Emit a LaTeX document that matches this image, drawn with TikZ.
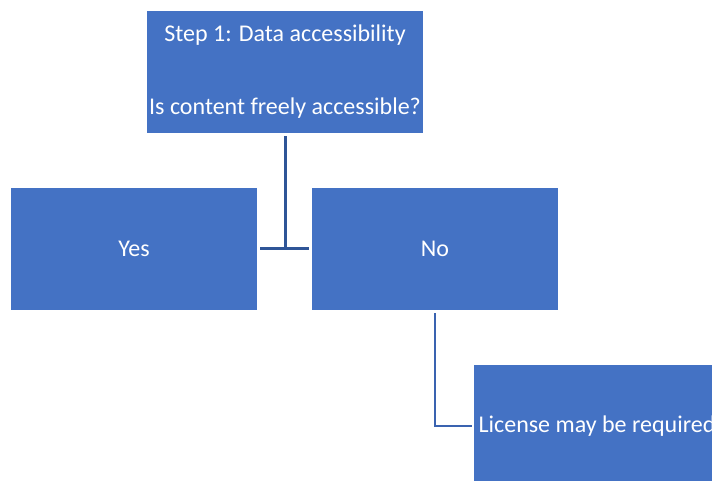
\documentclass[tikz,border=0pt]{standalone}
\usepackage{fontspec}
\setmainfont{Carlito}
\definecolor{boxblue}{HTML}{4472C4}
\definecolor{linedark}{HTML}{2F5597}
\definecolor{linemid}{HTML}{3A63B0}
\begin{document}
\begin{tikzpicture}[x=1pt,y=1pt,
  stepbox/.style={fill=boxblue, draw=none, text=white, inner sep=0pt,
    minimum width=246pt, minimum height=122pt, font=\fontsize{24}{29}\selectfont, align=center},
  conn/.style={line width=3pt}]
\useasboundingbox (0,0) rectangle (712,481);
\clip (0,0) rectangle (712,481);
\node[stepbox, minimum width=276pt] (top) at (285,409)
  {Step 1: Data accessibility\\[44pt]Is content freely accessible?};
\node[stepbox] (yes) at (134,232) {Yes};
\node[stepbox] (no) at (435,232) {No};
\node[stepbox] (lic) at (597,55) {License may be required};
\draw[conn, draw=linedark] ([yshift=-3pt]top.south) -- (top.south |- yes.east);
\draw[conn, draw=linedark] ([xshift=3pt]yes.east) -- ([xshift=-3pt]no.west);
\draw[conn, draw=linemid, line width=2.6pt] ([yshift=-3pt]no.south) |- ([xshift=-2pt]lic.west);
\end{tikzpicture}
\end{document}
